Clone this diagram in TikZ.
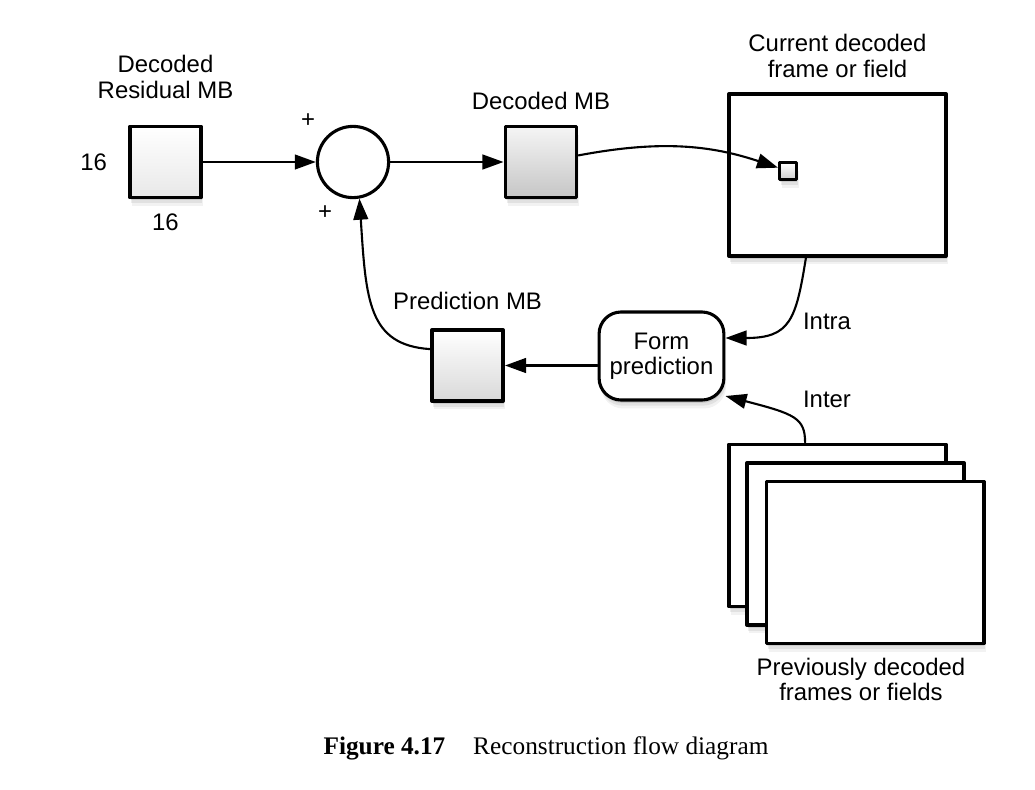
\documentclass[tikz,border=0pt]{standalone}
\usepackage{fontspec}
\setmainfont{Liberation Sans}
\newfontfamily\capfont{Liberation Serif}
\usetikzlibrary{positioning,shadows,arrows.meta}

\begin{document}
\begin{tikzpicture}[x=0.025cm, y=-0.025cm, font=\fontsize{17}{18}\selectfont, line join=round, line cap=round,
		>={Triangle[length=15pt,width=10.5pt]},
		soft/.style={general shadow={fill=black,opacity=.10,shadow xshift=.5pt,shadow yshift=-2pt},
			general shadow={fill=black,opacity=.07,shadow xshift=1pt,shadow yshift=-4pt},
			general shadow={fill=black,opacity=.05,shadow xshift=1.5pt,shadow yshift=-6pt}},
		mbbox/.style={draw, line width=2.8pt, minimum size=1.775cm, inner sep=0pt, soft},
		framebox/.style={draw, line width=2.8pt, fill=white, minimum width=5.425cm, minimum height=4.05cm, inner sep=0pt, soft},
		txt/.style={inner sep=0pt, align=center},
		conn/.style={->, line width=1.5pt}]
	\useasboundingbox (0,0) rectangle (1035,790);
	% blocks
	\node[mbbox, top color=white, bottom color=gray!18] (res) at (165.5,162) {};
	\node[draw, circle, line width=2.2pt, minimum size=1.78cm, inner sep=0pt, fill=white] (sum) at (353,162) {};
	\node[mbbox, top color=gray!8, bottom color=gray!45] (dmb) at (541,162) {};
	\node[framebox] (cur) at (837.5,175) {};
	\node[draw, line width=2.2pt, minimum size=.42cm, inner sep=0pt, top color=white, bottom color=gray!40, soft] (mb) at (788,171) {};
	\node[draw, line width=2.2pt, rounded corners=.55cm, minimum width=3.12cm, minimum height=2.2cm, fill=white, align=center, soft] (form) at (661.5,356) {Form\\prediction};
	\node[mbbox, top color=white, bottom color=gray!30] (pred) at (467.5,365.5) {};
	\foreach \i/\cx/\cy in {1/837.5/525.5, 2/855.5/544, 3/875/562.5}
		\node[framebox] (prev\i) at (\cx,\cy) {};
	% labels
	\node[txt, above=.65cm of res] (reslbl) {Decoded\\Residual MB};
	\node[txt, left=.52cm of res] (resh) {16};
	\node[txt, below=.35cm of res] (resw) {16};
	\node[txt] (plusa) at (308,121) {+};
	\node[txt] (plusb) at (325,213) {+};
	\node[txt, above=.37cm of dmb] (dmblbl) {Decoded MB};
	\node[txt, above=.46cm of pred] (predlbl) {Prediction MB};
	\node[txt, above=.36cm of cur] (curlbl) {Current decoded\\frame or field};
	\node[txt, below=.3cm of prev3, xshift=-.35cm] (prevlbl) {Previously decoded\\frames or fields};
	\node[txt] (intra) at (827,321) {Intra};
	\node[txt] (inter) at (827,399) {Inter};
	\node[txt, font=\capfont\fontsize{18}{20}\selectfont] (cap) at (546,748) {\textbf{Figure 4.17}\hspace{1.1em}Reconstruction flow diagram};
	% connectors
	\draw[conn] (res) -- (sum);
	\draw[conn] (sum) -- (dmb);
	\draw[conn] (dmb.10) .. controls (660,140) and (710,145) .. (mb);
	\draw[conn] ([xshift=-.79cm]cur.south) .. controls (796,320) and (790,338) .. ([yshift=.45cm]form.east);
	\draw[conn] ([xshift=-.81cm]prev1.north) .. controls (805,418) and (795,414) .. ([yshift=-1cm]form.east);
	\draw[conn] (form.west |- pred) -- (pred);
	\draw[conn] ([yshift=.41cm]pred.west) .. controls (368,345) and (366,300) .. (sum.-80);
\end{tikzpicture}
\end{document}
